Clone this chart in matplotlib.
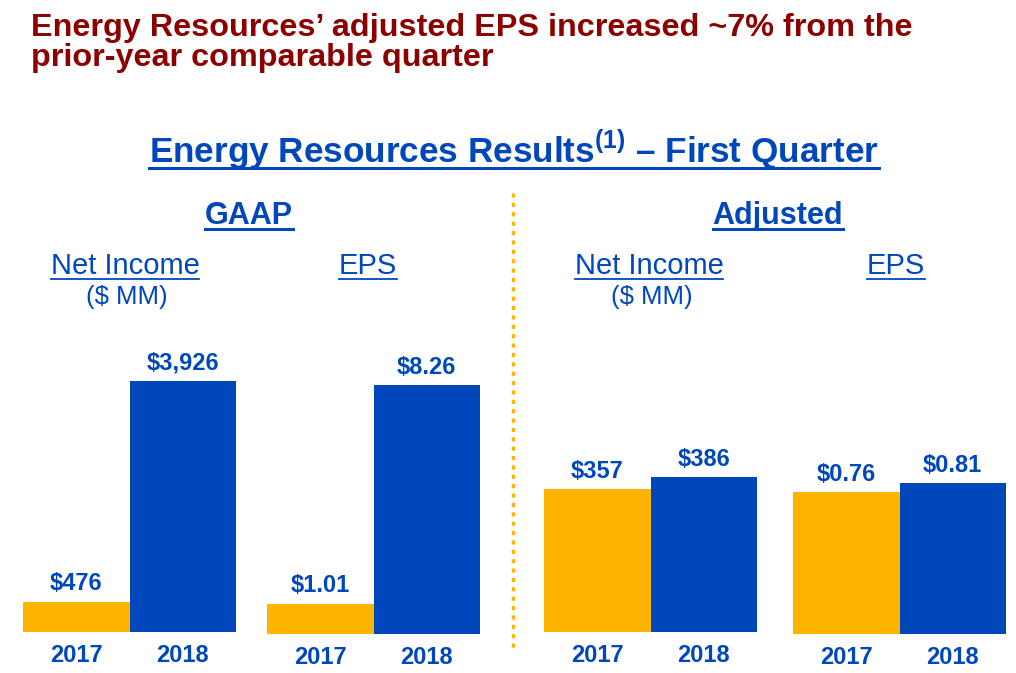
import matplotlib.pyplot as plt
from matplotlib.lines import Line2D

plt.rcParams['font.family'] = ['Liberation Sans', 'DejaVu Sans']
plt.rcParams['mathtext.fontset'] = 'custom'
plt.rcParams['mathtext.bf'] = 'Liberation Sans:bold'
plt.rcParams['mathtext.rm'] = 'Liberation Sans:bold'

# data
years = ['2017', '2018']
gaap_net_income = [476, 3926]
gaap_eps = [1.01, 8.26]
adj_net_income = [357, 386]
adj_eps = [0.76, 0.81]

BLUE = '#0047BB'
GOLD = '#FFB500'
RED = '#8C0000'

W, H = 1016, 673
fig = plt.figure(figsize=(W / 100, H / 100), dpi=100)


def fx(x):
    return x / W


def fy(y):
    return 1 - y / H


underlines = []


def ftext(x, y, s, size, weight='normal', color=BLUE, ha='left', ul=None, lw=2.5):
    t = fig.text(fx(x), fy(y), s, fontsize=size, fontweight=weight, color=color,
                 ha=ha, va='baseline')
    if ul is not None:
        underlines.append((t, ul, lw))
    return t


# headline
ftext(31, 36, 'Energy Resources\u2019 adjusted EPS increased ~7% from the', 23.3, 'bold', RED)
ftext(31, 66, 'prior-year comparable quarter', 23.3, 'bold', RED)

# section titles
ftext(514, 162, r'Energy Resources Results$^{\mathbf{(1)}}$' + ' \u2013 First Quarter',
      25.3, 'bold', ha='center', ul=5.5, lw=3)
ftext(249, 224, 'GAAP', 22, 'bold', ha='center', ul=5.5, lw=3)
ftext(778, 224, 'Adjusted', 22, 'bold', ha='center', ul=5.5, lw=3)

ftext(125, 274, 'Net Income', 21, ha='center', ul=5, lw=1.8)
ftext(127, 304, '($ MM)', 18.5, ha='center')
ftext(368, 274, 'EPS', 21, ha='center', ul=5, lw=1.8)
ftext(649, 274, 'Net Income', 21, ha='center', ul=5, lw=1.8)
ftext(652, 304, '($ MM)', 18.5, ha='center')
ftext(896, 274, 'EPS', 21, ha='center', ul=5, lw=1.8)

# dotted divider
fig.add_artist(Line2D([fx(513), fx(513)], [fy(193), fy(650)], transform=fig.transFigure,
                      color=GOLD, lw=2.5, linestyle=(0, (1.2, 1.5))))

# bar panels: (values, left px, right px, baseline px, ylim top, label format)
panels = [
    (gaap_net_income, 23, 236, 632, 4692, '${:,.0f}'),
    (gaap_eps, 267, 480, 634, 9.95, '${:.2f}'),
    (adj_net_income, 544, 757, 632, 747, '${:,.0f}'),
    (adj_eps, 793, 1006, 634, 1.609, '${:.2f}'),
]

for vals, x0, x1, base, top, fmt in panels:
    ax = fig.add_axes([fx(x0), fy(base), (x1 - x0) / W, 300 / H])
    ax.bar([0, 1], vals, width=1.0, color=[GOLD, BLUE])
    ax.set_xlim(-0.5, 1.5)
    ax.set_ylim(0, top)
    ax.axis('off')
    for i, v in enumerate(vals):
        ax.annotate(fmt.format(v), (i, v), xytext=(0, 8), textcoords='offset points',
                    ha='center', va='baseline', fontsize=17, fontweight='bold',
                    color=BLUE, annotation_clip=False)
        ax.annotate(years[i], (i, 0), xytext=(0, -21.6), textcoords='offset points',
                    ha='center', va='baseline', fontsize=17, fontweight='bold',
                    color=BLUE, annotation_clip=False)

# underline the linked-style headings
fig.canvas.draw()
r = fig.canvas.get_renderer()
for t, off, lw in underlines:
    bb = t.get_window_extent(r)
    ybase = t.get_position()[1] * H - off
    fig.add_artist(Line2D([bb.x0 / W, bb.x1 / W], [ybase / H, ybase / H],
                          transform=fig.transFigure, color=BLUE, lw=lw * 0.72))

fig.savefig('out.png', dpi=100)
